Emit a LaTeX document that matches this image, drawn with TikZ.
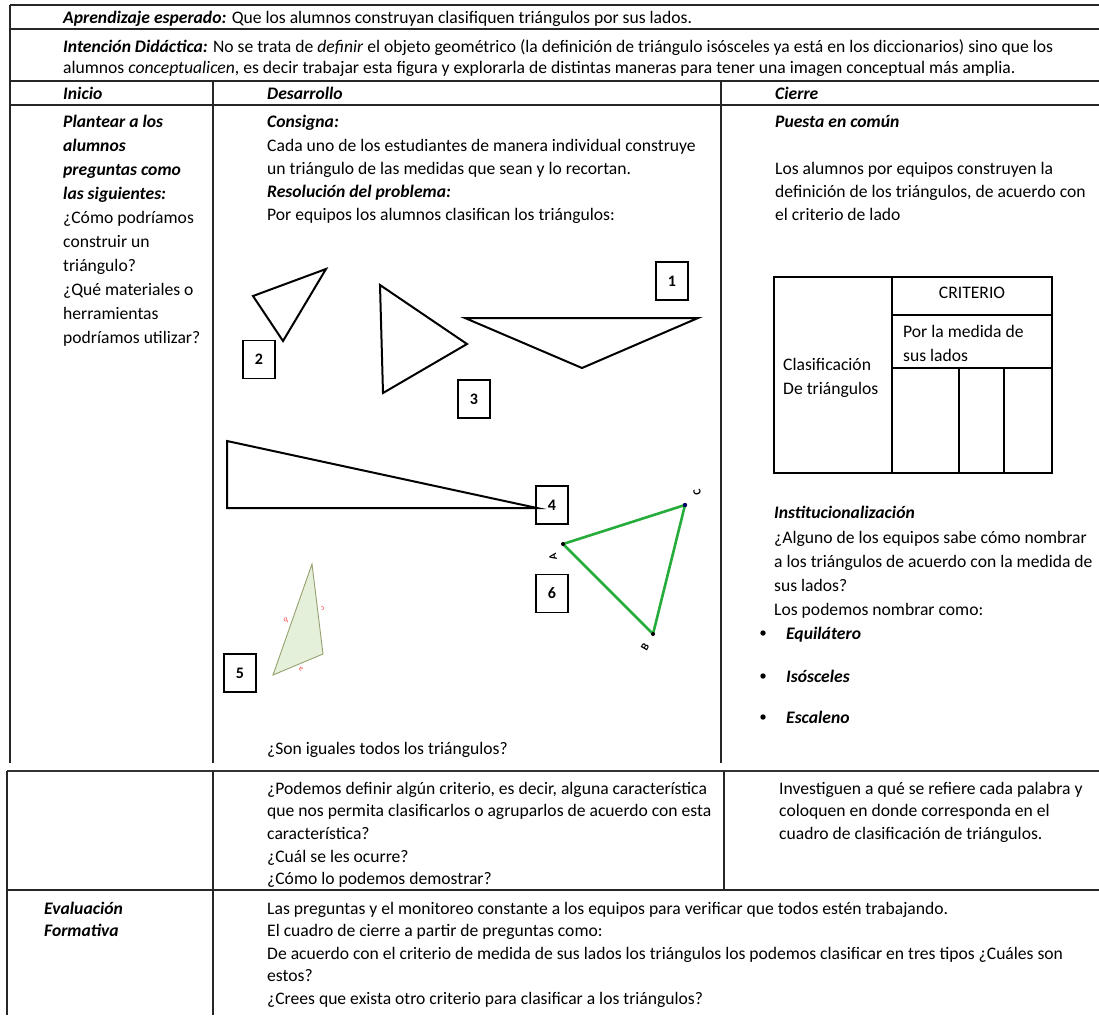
\documentclass[tikz,border=0pt]{standalone}
\usepackage{fontspec}
\setmainfont{Carlito}
\newcommand\BI[1]{\textbf{\textit{#1}}}
\newcommand\Tline[4]{\node[txt] (#1) at (#2,#3+6) {#4};}
\definecolor{ggreen}{RGB}{38,172,58}
\definecolor{lgreen}{RGB}{228,240,218}
\definecolor{olive}{RGB}{150,160,110}
\begin{document}
\begin{tikzpicture}[x=1pt,y=-1pt,
  rule/.style={line width=1.3pt, draw=black!85},
  trib/.style={line width=2pt, line join=miter, draw=black},
  numbox/.style={draw, line width=1.3pt, minimum width=32pt, minimum height=38pt, inner sep=0pt, font=\fontsize{16}{18}\selectfont\bfseries},
  txt/.style={anchor=base west, inner sep=0pt, font=\fontsize{17.6}{20}\selectfont},
  vlab/.style={inner sep=0pt, font=\fontsize{11}{12}\selectfont\bfseries},
  rlab/.style={inner sep=0pt, text=red!75, font=\fontsize{7.5}{8}\selectfont}]
\useasboundingbox (0,0) rectangle (1099,1015);
\fill[white] (0,0) rectangle (1099,1015);

% ---------- first table rules ----------
\draw[rule] (10,5) -- (1099,5);
\draw[rule] (10,29) -- (1099,29);
\draw[rule] (10,81) -- (1099,81);
\draw[rule] (10,105) -- (1099,105);
\draw[rule] (10,5) -- (10,763);
\draw[rule] (213,81) -- (213,763);
\draw[rule] (721,81) -- (721,763);

% ---------- second table rules ----------
\draw[line width=2.2pt, draw=black!80] (7,771) -- (1099,771);
\draw[rule] (7,771) -- (7,1015);
\draw[rule] (213,771) -- (213,1015);
\draw[rule] (724,771) -- (724,890);
\draw[rule] (7,890) -- (1099,890);

% ---------- header texts ----------
\Tline{ap}{63}{17}{\BI{Aprendizaje esperado:} Que los alumnos construyan clasifiquen triángulos por sus lados.}
\Tline{in1}{63}{46}{\BI{Intención Didáctica:} No se trata de \textit{definir} el objeto geométrico (la definición de triángulo isósceles ya está en los diccionarios) sino que los}
\Tline{in2}{63}{67}{alumnos \textit{conceptualicen}, es decir trabajar esta figura y explorarla de distintas maneras para tener una imagen conceptual más amplia.}
\Tline{hinicio}{63}{93}{\BI{Inicio}}
\Tline{hdes}{267}{93}{\BI{Desarrollo}}
\Tline{hcierre}{775}{93}{\BI{Cierre}}

% ---------- Inicio column ----------
\Tline{i1}{63}{121}{\BI{Plantear a los}}
\Tline{i2}{63}{145}{\BI{alumnos}}
\Tline{i3}{63}{169}{\BI{preguntas como}}
\Tline{i4}{63}{193}{\BI{las siguientes:}}
\Tline{i5}{63}{217}{¿Cómo podríamos}
\Tline{i6}{63}{241}{construir un}
\Tline{i7}{63}{265}{triángulo?}
\Tline{i8}{63}{289}{¿Qué materiales o}
\Tline{i9}{63}{313}{herramientas}
\Tline{i10}{63}{337}{podríamos utilizar?}

% ---------- Desarrollo column ----------
\Tline{d1}{267}{121}{\BI{Consigna:}}
\Tline{d2}{267}{145}{Cada uno de los estudiantes de manera individual construye}
\Tline{d3}{267}{168}{un triángulo de las medidas que sean y lo recortan.}
\Tline{d4}{267}{191}{\BI{Resolución del problema:}}
\Tline{d5}{267}{214}{Por equipos los alumnos clasifican los triángulos:}
\Tline{d6}{267}{748}{¿Son iguales todos los triángulos?}

% ---------- Cierre column ----------
\Tline{c1}{775}{121}{\BI{Puesta en común}}
\Tline{c2}{775}{168}{Los alumnos por equipos construyen la}
\Tline{c3}{775}{191}{definición de los triángulos, de acuerdo con}
\Tline{c4}{775}{214}{el criterio de lado}
\Tline{c5}{774}{512}{\BI{Institucionalización}}
\Tline{c6}{774}{537}{¿Alguno de los equipos sabe cómo nombrar}
\Tline{c7}{774}{561}{a los triángulos de acuerdo con la medida de}
\Tline{c8}{774}{585}{sus lados?}
\Tline{c9}{774}{609}{Los podemos nombrar como:}
\fill (763,633) circle (2.7);
\fill (763,676) circle (2.7);
\fill (763,717) circle (2.7);
\Tline{b1}{786}{633}{\BI{Equilátero}}
\Tline{b2}{786}{676}{\BI{Isósceles}}
\Tline{b3}{786}{717}{\BI{Escaleno}}

% ---------- classification table ----------
\draw[line width=1.2pt] (774,277) rectangle (1052,473);
\draw[line width=1.2pt] (892,277) -- (892,473);
\draw[line width=1.2pt] (892,315) -- (1052,315);
\draw[line width=1.2pt] (892,368) -- (1052,368);
\draw[line width=1.2pt] (959,368) -- (959,473);
\draw[line width=1.2pt] (1004,368) -- (1004,473);
\node[txt, anchor=base] (crit) at (972,298) {CRITERIO};
\Tline{pm1}{903}{331}{Por la medida de}
\Tline{pm2}{903}{355}{sus lados}
\Tline{cl1}{783}{364}{Clasificación}
\Tline{cl2}{783}{388}{De triángulos}

% ---------- triangles ----------
\coordinate (t1a) at (465,318); \coordinate (t1b) at (698,318); \coordinate (t1c) at (582,368);
\draw[trib] (t1a) -- (t1b) -- (t1c) -- cycle;
\coordinate (t2a) at (253,296); \coordinate (t2b) at (326,269); \coordinate (t2c) at (283,341);
\draw[trib] (t2a) -- (t2b) -- (t2c) -- cycle;
\coordinate (t3a) at (380,285); \coordinate (t3b) at (467,344); \coordinate (t3c) at (383,393);
\draw[trib] (t3a) -- (t3b) -- (t3c) -- cycle;
\coordinate (t4a) at (227,441); \coordinate (t4b) at (227,508); \coordinate (t4c) at (537,508);
\draw[trib] (t4a) -- (t4b) -- (t4c) -- cycle;
\coordinate (t5a) at (312,564); \coordinate (t5b) at (323,654); \coordinate (t5c) at (273,675);
\draw[fill=lgreen, draw=olive, line width=0.9pt] (t5a) -- (t5b) -- (t5c) -- cycle;
\node[rlab, rotate=200] (lb5) at (286,621) {b};
\node[rlab, rotate=190] (lc5) at (322.5,609) {c};
\node[rlab, rotate=150] (la5) at (301,669) {a};
\coordinate (A) at (563,544); \coordinate (C) at (685,505); \coordinate (B) at (653,634);
\draw[ggreen, line width=2.6pt, line join=round] (A) -- (C) -- (B) -- cycle;
\fill (A) circle (2); \fill (B) circle (2); \fill[blue!40!black] (C) circle (2.2);
\node[vlab, rotate=100] (lA) at (553,557) {A};
\node[vlab, rotate=60] (lB) at (645,647) {B};
\node[vlab, rotate=100] (lC) at (697,492) {C};

% ---------- number boxes ----------
\node[numbox] (n1) at (672,281) {1};
\node[numbox] (n2) at (259,359.5) {2};
\node[numbox] (n3) at (474,399) {3};
\node[numbox] (n4) at (552,505) {4};
\node[numbox] (n5) at (240,673) {5};
\node[numbox] (n6) at (552,593.5) {6};

% ---------- second table texts ----------
\Tline{s1}{267}{788}{¿Podemos definir algún criterio, es decir, alguna característica}
\Tline{s2}{267}{810}{que nos permita clasificarlos o agruparlos de acuerdo con esta}
\Tline{s3}{267}{833}{característica?}
\Tline{s4}{267}{856}{¿Cuál se les ocurre?}
\Tline{s5}{267}{878}{¿Cómo lo podemos demostrar?}
\Tline{r1}{779}{788}{Investiguen a qué se refiere cada palabra y}
\Tline{r2}{779}{810}{coloquen en donde corresponda en el}
\Tline{r3}{779}{833}{cuadro de clasificación de triángulos.}
\Tline{e1}{44}{908}{\BI{Evaluación}}
\Tline{e2}{44}{930}{\BI{Formativa}}
\Tline{f1}{267}{908}{Las preguntas y el monitoreo constante a los equipos para verificar que todos estén trabajando.}
\Tline{f2}{267}{930}{El cuadro de cierre a partir de preguntas como:}
\Tline{f3}{267}{953}{De acuerdo con el criterio de medida de sus lados los triángulos los podemos clasificar en tres tipos ¿Cuáles son}
\Tline{f4}{267}{975}{estos?}
\Tline{f5}{267}{998}{¿Crees que exista otro criterio para clasificar a los triángulos?}
\end{tikzpicture}
\end{document}
